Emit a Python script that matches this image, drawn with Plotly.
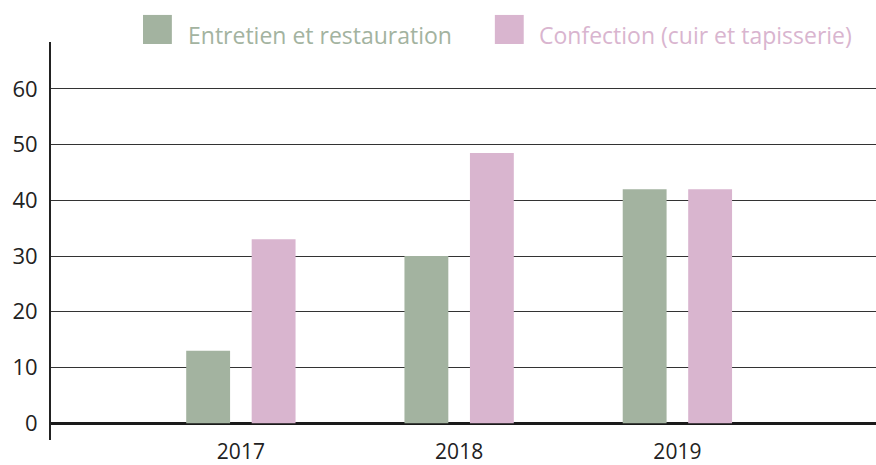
import plotly.graph_objects as go

years = ["2017", "2018", "2019"]
entretien = [13, 30, 42]
confection = [33, 48.5, 42]
series_names = ["Entretien et restauration", "Confection (cuir et tapisserie)"]
colors = ["#a3b3a0", "#d9b5cf"]
y_ticks = [0, 10, 20, 30, 40, 50, 60]

FONT = "Open Sans"

fig = go.Figure()
for name, vals, col in zip(series_names, [entretien, confection], colors):
    fig.add_trace(go.Bar(x=years, y=vals, name=name, marker_color=col,
                         marker_line_width=0, showlegend=False))

# custom legend (large squares, coloured text)
sq_x = [0.1115, 0.538]
txt_x = [0.1636, 0.589]
for name, col, sx, tx in zip(series_names, colors, sq_x, txt_x):
    fig.add_shape(type="rect", xref="paper", yref="paper",
                  x0=sx, x1=sx + 0.035, y0=0.995, y1=1.068,
                  fillcolor=col, line_width=0, layer="above")
    fig.add_annotation(xref="paper", yref="paper", x=tx, y=1.017,
                       text=name, showarrow=False, xanchor="left", yanchor="middle",
                       font=dict(size=23, color=col, family=FONT))

fig.update_layout(
    width=876, height=465,
    margin=dict(l=51, r=0, t=42, b=25, autoexpand=False),
    plot_bgcolor="white", paper_bgcolor="white",
    barmode="group", bargap=0.4, bargroupgap=0.33,
    font=dict(family=FONT, size=20, color="#222"),
)
fig.update_xaxes(type="category", range=[-0.87, 2.91], showgrid=False,
                 showline=False, ticks="", automargin=False, ticklabelstandoff=-3,
                 tickfont=dict(size=21, color="#222", family=FONT))
fig.update_yaxes(range=[-3, 68.4], tickvals=y_ticks, showgrid=True,
                 gridcolor="#333", gridwidth=1, zeroline=True,
                 zerolinecolor="#1a1a1a", zerolinewidth=3,
                 showline=True, linecolor="#222", linewidth=2,
                 ticks="", ticklabelstandoff=7, automargin=False,
                 tickfont=dict(size=22, color="#222", family=FONT))

fig.write_html("out.html", config={"displayModeBar": False},
               post_script="document.body.style.margin='0';document.body.style.padding='0';")
